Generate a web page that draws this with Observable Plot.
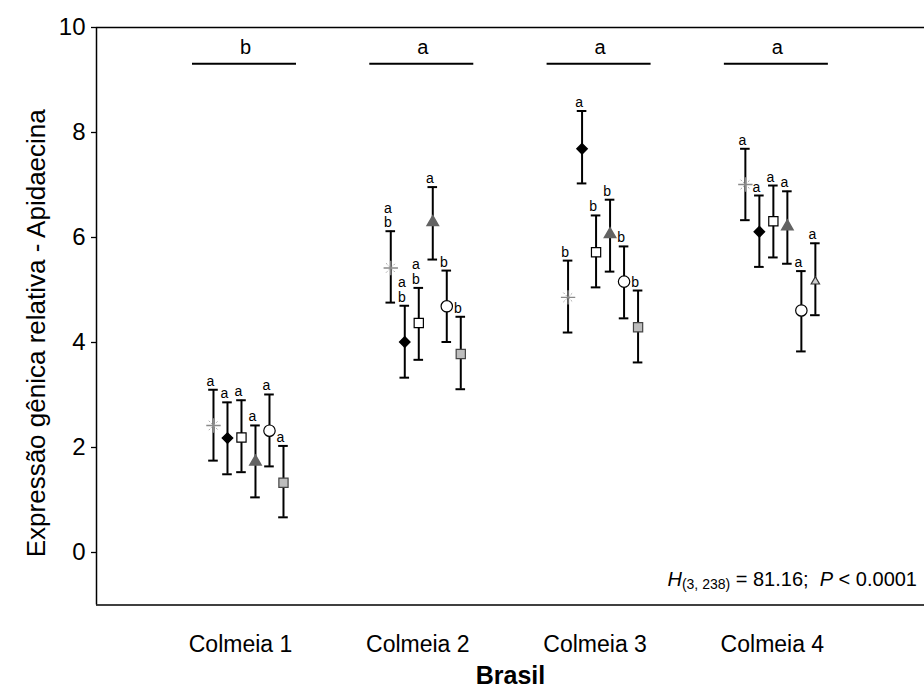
<!DOCTYPE html>
<html><head><meta charset="utf-8">
<script src="https://cdn.jsdelivr.net/npm/d3@7"></script>
<script src="https://cdn.jsdelivr.net/npm/@observablehq/plot@0.6"></script>
<style>body{margin:0;background:#fff} #chart svg{display:block}</style>
</head><body><div id="chart"></div>
<script>
// ---- data ----
const colmeias = ["Colmeia 1", "Colmeia 2", "Colmeia 3", "Colmeia 4"];
const colmeiaLetters = ["b", "a", "a", "a"];
const groups = [
  ["G1", "G2", "G3", "G4", "G5", "G6"],
  ["G1", "G2", "G3", "G4", "G5", "G6"],
  ["G1", "G2", "G3", "G4", "G5", "G6"],
  ["G1", "G2", "G3", "G4", "G5", "G7"]
];
const means = [
  [2.42, 2.18, 2.19, 1.73, 2.32, 1.33],
  [5.42, 4.01, 4.37, 6.29, 4.69, 3.78],
  [4.86, 7.69, 5.72, 6.06, 5.16, 4.29],
  [7.01, 6.11, 6.31, 6.21, 4.61, 5.16]
];
const upper = [
  [3.10, 2.86, 2.90, 2.42, 3.01, 2.03],
  [6.12, 4.70, 5.04, 6.96, 5.37, 4.49],
  [5.56, 8.41, 6.42, 6.72, 5.83, 4.99],
  [7.69, 6.80, 6.99, 6.88, 5.36, 5.89]
];
const lower = [
  [1.75, 1.49, 1.53, 1.05, 1.64, 0.67],
  [4.76, 3.33, 3.67, 5.58, 4.01, 3.11],
  [4.19, 7.03, 5.05, 5.35, 4.46, 3.62],
  [6.33, 5.44, 5.62, 5.50, 3.83, 4.52]
];
const letters = [
  ["a", "a", "a", "a", "a", "a"],
  ["a\nb", "a\nb", "a\nb", "a", "b", "b"],
  ["b", "a", "b", "b", "b", "b"],
  ["a", "a", "a", "a", "a", "a"]
];
const yTicks = [0, 2, 4, 6, 8, 10];
const yTitle = "Expressão gênica relativa - Apidaecina";
const xTitle = "Brasil";
const statParts = ["H", "(3, 238)", " = 81.16;  ", "P", " < 0.0001"];

// ---- layout ----
const W = 924, H = 696;
const mL = 96, mR = 0, mT = 27, mB = 91.5;
const xMin = 0.1878, xMax = 4.858;
const pxPerX = (W - mL - mR) / (xMax - xMin);
const step = 14 / pxPerX;        // spacing between groups inside a colmeia
const cap = 4.8 / pxPerX;        // half width of error-bar caps
const bracketY = 9.31, bracketLetterY = 9.62;

const rows = [];
colmeias.forEach((c, ci) => {
  groups[ci].forEach((g, gi) => {
    rows.push({
      colmeia: c, group: g,
      x: ci + 1 + (gi - 1.93) * step,
      mean: means[ci][gi], lo: lower[ci][gi], hi: upper[ci][gi],
      letter: letters[ci][gi]
    });
  });
});
const caps = rows.flatMap(d => [{x: d.x, y: d.lo}, {x: d.x, y: d.hi}]);
const brackets = colmeias.map((c, i) => ({c: i + 1, letter: colmeiaLetters[i]}));

const styles = {
  G2: {symbol: "diamond2", fill: "black", stroke: "black", r: 4.6},
  G3: {symbol: "square", fill: "white", stroke: "black", strokeWidth: 1.2, r: 5.2},
  G4: {symbol: "triangle", fill: "#636363", stroke: "#636363", r: 4.2},
  G5: {symbol: "circle", fill: "white", stroke: "black", strokeWidth: 1.2, r: 5.7},
  G6: {symbol: "square", fill: "#bdbdbd", stroke: "#444", strokeWidth: 1.2, r: 5.2},
  G7: {symbol: "triangle", fill: "#cfcfcf", stroke: "#333", strokeWidth: 1.2, r: 3.1}
};
const dotMarks = Object.entries(styles).map(([g, s]) =>
  Plot.dot(rows.filter(d => d.group === g), {x: "x", y: "mean", ...s}));
const ast = rows.filter(d => d.group === "G1");

const plot = Plot.plot({
  width: W, height: H,
  marginLeft: mL, marginRight: mR, marginTop: mT, marginBottom: mB,
  style: {fontFamily: "'Liberation Sans', Arial, sans-serif", fontSize: "16px", color: "black", background: "white"},
  x: {domain: [xMin, xMax]},
  y: {domain: [-1, 10]},
  marks: [
    Plot.axisY({ticks: yTicks, tickSize: 5, tickPadding: 6, fontSize: 24, label: null, strokeWidth: 1.3}),
    Plot.axisX({ticks: [1, 2, 3, 4], tickFormat: d => colmeias[d - 1], tickSize: 0, tickPadding: 31, fontSize: 23, label: null}),
    Plot.ruleX([xMin], {y1: -1, y2: 10, stroke: "black", strokeWidth: 1.5}),
    Plot.ruleY([10, -1], {stroke: "black", strokeWidth: 1.5}),
    // significance brackets
    Plot.ruleY(brackets, {y: bracketY, x1: d => d.c - 48 / pxPerX, x2: d => d.c + 56 / pxPerX, stroke: "black", strokeWidth: 1.8}),
    Plot.text(brackets, {x: d => d.c + 5 / pxPerX, y: bracketLetterY, text: "letter", fontSize: 20}),
    // error bars
    Plot.ruleX(rows, {x: "x", y1: "lo", y2: "hi", stroke: "black", strokeWidth: 2}),
    Plot.ruleY(caps, {y: "y", x1: d => d.x - cap, x2: d => d.x + cap, stroke: "black", strokeWidth: 2}),
    // asterisk-like markers
    Plot.dot(ast, {x: "x", y: "mean", symbol: "times", stroke: "#aaa", strokeWidth: 1, strokeDasharray: "2,1.5", r: 4.4}),
    Plot.dot(ast, {x: "x", y: "mean", symbol: "plus", stroke: "#8a8a8a", strokeWidth: 1.4, r: 4.7}),
    ...dotMarks,
    // letters above bars
    Plot.text(rows, {x: "x", y: "hi", text: "letter", dx: -3, dy: -4, lineAnchor: "bottom", lineHeight: 1.05, fontSize: 14}),
    // titles
    Plot.text([yTitle], {frameAnchor: "left", textAnchor: "middle", dx: -60, dy: 17, rotate: -90, fontSize: 26}),
    Plot.text([xTitle], {frameAnchor: "bottom", dy: 79, fontSize: 25, fontWeight: "bold"})
  ]
});

// statistics annotation with italic letters and subscript
const svg = d3.select(plot);
const t = svg.append("text")
  .attr("x", W - 7).attr("y", 586)
  .attr("text-anchor", "end")
  .attr("font-size", 20).attr("fill", "black")
  .style("white-space", "pre");
t.append("tspan").attr("font-style", "italic").text(statParts[0]);
t.append("tspan").attr("font-size", 14).attr("dy", 3).text(statParts[1]);
t.append("tspan").attr("dy", -3).text(statParts[2]);
t.append("tspan").attr("font-style", "italic").text(statParts[3]);
t.append("tspan").text(statParts[4]);

document.getElementById("chart").appendChild(plot);
</script>
</body></html>
